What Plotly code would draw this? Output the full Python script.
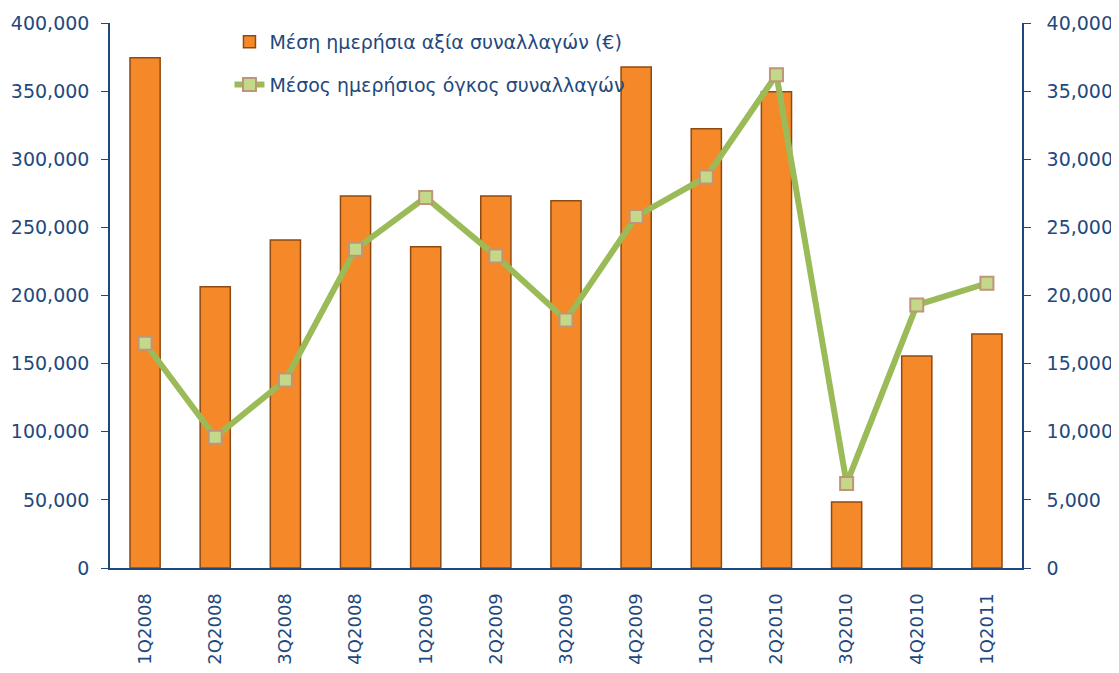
import plotly.graph_objects as go

quarters = ["1Q2008", "2Q2008", "3Q2008", "4Q2008", "1Q2009", "2Q2009", "3Q2009",
            "4Q2009", "1Q2010", "2Q2010", "3Q2010", "4Q2010", "1Q2011"]
avg_value = [374500, 206500, 240800, 273000, 235700, 273000, 269500,
             367700, 322300, 349500, 48500, 155600, 171800]
avg_volume = [16500, 9600, 13800, 23400, 27200, 22900, 18200,
              25800, 28700, 36200, 6200, 19300, 20900]

name_value = "Μέση ημερήσια αξία συναλλαγών (€)"
name_volume = "Μέσος ημερήσιος όγκος συναλλαγών"

txt = "#1F497D"
font_family = "DejaVu Sans"

fig = go.Figure()
fig.add_trace(go.Bar(
    x=quarters, y=avg_value, name=name_value, legendgroup="a",
    marker=dict(color="#F5892A", line=dict(color="#8E4A10", width=1.5)),
    width=0.43, yaxis="y",
))
fig.add_trace(go.Scatter(
    x=quarters, y=avg_volume, name=name_volume, legendgroup="b",
    mode="lines+markers", yaxis="y2",
    line=dict(color="#9BBB59", width=6),
    marker=dict(symbol="square", size=13, color="#C4D88A",
                line=dict(color="#C09478", width=2)),
))

fig.update_layout(
    width=1111, height=665,
    margin=dict(l=102, r=97, t=15, b=105, autoexpand=False),
    paper_bgcolor="white", plot_bgcolor="white",
    font=dict(family=font_family, color=txt, size=19),
    showlegend=True,
    legend=dict(x=0.131, y=1.0, xanchor="left", yanchor="top",
                bgcolor="rgba(0,0,0,0)", font=dict(size=19, color=txt),
                tracegroupgap=15),
    bargap=0.57,
    xaxis=dict(range=[-0.5, len(quarters) - 0.5], autorange=False,
               showline=True, linecolor=txt, linewidth=2, showgrid=False,
               tickangle=-90, ticks="", ticklabelstandoff=16, automargin=False,
               tickfont=dict(size=18, color=txt)),
    yaxis=dict(range=[0, 400000], dtick=50000, tickformat=",", automargin=False,
               showline=True, linecolor=txt, linewidth=1.5, showgrid=False,
               ticks="outside", ticklen=7, tickcolor=txt, zeroline=False,
               ticklabelstandoff=8, tickfont=dict(size=19, color=txt)),
    yaxis2=dict(range=[0, 40000], dtick=5000, tickformat=",", automargin=False,
                overlaying="y", side="right",
                showline=True, linecolor=txt, linewidth=1.5, showgrid=False,
                ticks="outside", ticklen=7, tickcolor=txt, zeroline=False,
                ticklabelstandoff=12, tickfont=dict(size=19, color=txt)),
)

fig.write_html("out.html")
